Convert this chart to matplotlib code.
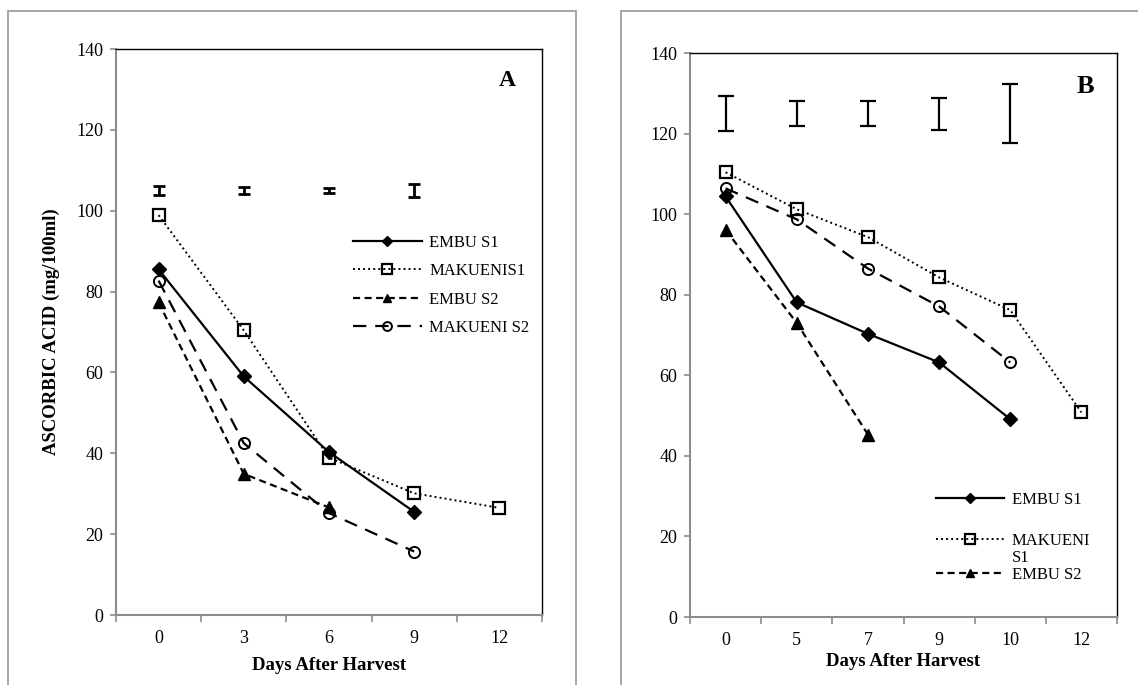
import matplotlib
matplotlib.use("Agg")
import numpy as np
import matplotlib.pyplot as plt
from matplotlib.patches import Rectangle
from matplotlib.lines import Line2D
from matplotlib.ticker import FixedLocator

plt.rcParams['font.family'] = ['Liberation Serif', 'DejaVu Serif']

# ---------------- data: panel A ----------------
days_a = ["0", "3", "6", "9", "12"]
embu_s1_a = [85.5, 59.0, 40.3, 25.5]
makueni_s1_a = [98.9, 70.4, 38.9, 30.1, 26.5]
embu_s2_a = [77.3, 34.9, 26.6]
makueni_s2_a = [82.7, 42.5, 25.2, 15.7]
err_center_a = [105.0, 105.0, 105.0, 105.0]
err_half_a = [1.1, 0.8, 0.7, 1.6]

# ---------------- data: panel B ----------------
days_b = ["0", "5", "7", "9", "10", "12"]
embu_s1_b = [104.4, 78.1, 70.3, 63.2, 49.1]
makueni_s1_b = [110.4, 101.2, 94.3, 84.3, 76.2, 50.8]
embu_s2_b = [96.1, 73.0, 45.3]
makueni_s2_b = [106.4, 98.7, 86.5, 77.1, 63.2]
err_center_b = [125.0, 125.0, 125.0, 124.9, 125.0]
err_half_b = [4.35, 3.1, 3.1, 4.0, 7.3]

GREY = "#8c8c8c"

fig = plt.figure(figsize=(11.38, 6.85), dpi=100)

# outer frames around each panel
fig.patches.append(Rectangle((8 / 1138, -0.05), (576 - 8) / 1138, 1.05 - 11 / 685,
                             transform=fig.transFigure, fill=False,
                             edgecolor="#a6a6a6", lw=1.4))
fig.patches.append(Rectangle((621 / 1138, -0.05), 0.5, 1.05 - 11 / 685,
                             transform=fig.transFigure, fill=False,
                             edgecolor="#a6a6a6", lw=1.4))

ax_a = fig.add_axes([116 / 1138, 1 - 615 / 685, (542 - 116) / 1138, (615 - 49) / 685])
ax_b = fig.add_axes([690 / 1138, 1 - 617 / 685, (1117 - 690) / 1138, (617 - 53) / 685])


def style_line(ax, y, kind, label=None):
    x = np.arange(len(y))
    if kind == "embu_s1":
        return ax.plot(x, y, color="black", lw=1.6, ls="-", marker="D", ms=7,
                       mfc="black", mec="black", label=label)[0]
    if kind == "makueni_s1":
        return ax.plot(x, y, color="black", lw=1.4, ls=(0, (1, 1.6)), marker="s", ms=9,
                       mfc="none", mec="black", mew=1.6, label=label)[0]
    if kind == "embu_s2":
        return ax.plot(x, y, color="black", lw=1.6, ls=(0, (3.2, 2)), marker="^", ms=8,
                       mfc="black", mec="black", label=label)[0]
    return ax.plot(x, y, color="black", lw=1.6, ls=(0, (6, 4)), marker="o", ms=8,
                   mfc="none", mec="black", mew=1.4, label=label)[0]


def style_axes(ax, cats, xpad):
    n = len(cats)
    ax.set_xlim(-0.5, n - 0.5)
    ax.set_ylim(0, 140)
    ax.set_yticks(np.arange(0, 141, 20))
    ax.set_xticks(np.arange(n))
    ax.set_xticklabels(cats)
    ax.xaxis.set_minor_locator(FixedLocator(np.arange(n + 1) - 0.5))
    ax.tick_params(axis="x", which="major", length=0, labelsize=13, pad=11)
    ax.tick_params(axis="x", which="minor", length=5, color=GREY, width=1.2,
                   direction="out")
    ax.tick_params(axis="y", length=4, color=GREY, width=1.2, labelsize=13, pad=5)
    for s in ("left", "bottom"):
        ax.spines[s].set_color(GREY)
        ax.spines[s].set_linewidth(1.5)
    for s in ("top", "right"):
        ax.spines[s].set_color("black")
        ax.spines[s].set_linewidth(1.0)
    ax.set_xlabel("Days After Harvest", fontsize=13.5, fontweight="bold", labelpad=xpad)


# ---------------- panel A ----------------
style_axes(ax_a, days_a, 7)
ax_a.errorbar(np.arange(len(err_center_a)), err_center_a, yerr=err_half_a, fmt="none",
              ecolor="black", elinewidth=2.0, capsize=4.5, capthick=2.0)
style_line(ax_a, embu_s1_a, "embu_s1", "EMBU S1")
style_line(ax_a, makueni_s1_a, "makueni_s1", "MAKUENIS1")
style_line(ax_a, embu_s2_a, "embu_s2", "EMBU S2")
style_line(ax_a, makueni_s2_a, "makueni_s2", "MAKUENI S2")
ax_a.set_ylabel("ASCORBIC ACID (mg/100ml)", fontsize=13.5, fontweight="bold", labelpad=12)
ax_a.text(0.918, 0.945, "A", transform=ax_a.transAxes, fontsize=17,
          fontweight="bold", ha="center", va="center")
ax_a.legend(loc="upper left", bbox_to_anchor=(0.557, 0.672), frameon=False,
            fontsize=12, handlelength=4.1, handletextpad=0.45, labelspacing=0.75,
            borderpad=0, borderaxespad=0, markerscale=0.8)

# ---------------- panel B ----------------
style_axes(ax_b, days_b, 3)
ax_b.errorbar(np.arange(len(err_center_b)), err_center_b, yerr=err_half_b, fmt="none",
              ecolor="black", elinewidth=1.6, capsize=6, capthick=1.6)
h1 = style_line(ax_b, embu_s1_b, "embu_s1", "EMBU S1")
h2 = style_line(ax_b, makueni_s1_b, "makueni_s1", "MAKUENI")
h3 = style_line(ax_b, embu_s2_b, "embu_s2", "EMBU S2")
style_line(ax_b, makueni_s2_b, "makueni_s2")
ax_b.text(0.925, 0.94, "B", transform=ax_b.transAxes, fontsize=19,
          fontweight="bold", ha="center", va="center")

leg_kw = dict(frameon=False, fontsize=12, handlelength=4.1, handletextpad=0.45,
              borderpad=0, borderaxespad=0, markerscale=0.8)
leg1 = ax_b.legend(handles=[h1], loc="center left", bbox_to_anchor=(0.576, 0.2074), **leg_kw)
ax_b.add_artist(leg1)
blank = Line2D([], [], linestyle="none")
ax_b.legend(handles=[h2, blank, h3], labels=["MAKUENI", "S1", "EMBU S2"],
            loc="center left", bbox_to_anchor=(0.576, 0.1046), labelspacing=0.05,
            **leg_kw)

fig.savefig("out.png", dpi=100)
